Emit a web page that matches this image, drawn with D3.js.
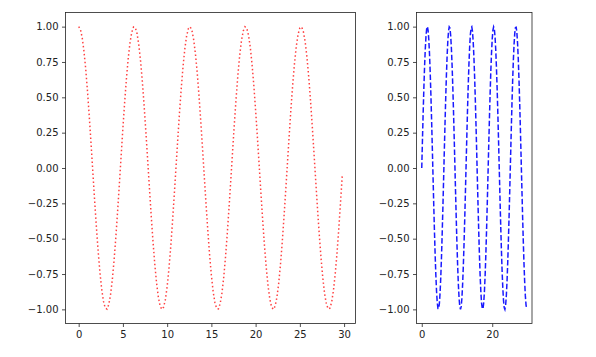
<!DOCTYPE html>
<html><head><meta charset="utf-8">
<script src="https://cdn.jsdelivr.net/npm/d3@7"></script>
<style>body{margin:0;background:#fff;}svg{display:block;}</style>
</head><body>
<script>
const xValues = [0,0.2,0.4,0.6,0.8,1,1.2,1.4,1.6,1.8,2,2.2,2.4,2.6,2.8,3,3.2,3.4,3.6,3.8,4,4.2,4.4,4.6,4.8,5,5.2,5.4,5.6,5.8,6,6.2,6.4,6.6,6.8,7,7.2,7.4,7.6,7.8,8,8.2,8.4,8.6,8.8,9,9.2,9.4,9.6,9.8,10,10.2,10.4,10.6,10.8,11,11.2,11.4,11.6,11.8,12,12.2,12.4,12.6,12.8,13,13.2,13.4,13.6,13.8,14,14.2,14.4,14.6,14.8,15,15.2,15.4,15.6,15.8,16,16.2,16.4,16.6,16.8,17,17.2,17.4,17.6,17.8,18,18.2,18.4,18.6,18.8,19,19.2,19.4,19.6,19.8,20,20.2,20.4,20.6,20.8,21,21.2,21.4,21.6,21.8,22,22.2,22.4,22.6,22.8,23,23.2,23.4,23.6,23.8,24,24.2,24.4,24.6,24.8,25,25.2,25.4,25.6,25.8,26,26.2,26.4,26.6,26.8,27,27.2,27.4,27.6,27.8,28,28.2,28.4,28.6,28.8,29,29.2,29.4,29.6,29.8];

const redValues = [1,0.98,0.921,0.825,0.697,0.54,0.362,0.17,-0.029,-0.227,-0.416,-0.589,-0.737,-0.857,-0.942,-0.99,-0.998,-0.967,-0.897,-0.791,-0.654,-0.49,-0.307,-0.112,0.087,0.284,0.468,0.635,0.776,0.886,0.96,0.997,
0.993,0.95,0.869,0.754,0.609,0.438,0.251,0.054,-0.145,-0.339,-0.519,-0.679,-0.811,-0.911,-0.975,-1,-0.984,-0.931,-0.839,-0.714,-0.561,-0.385,-0.194,0.005,0.203,0.394,0.568,0.721,0.844,0.934,0.986,
0.999,0.973,0.907,0.806,0.673,0.511,0.33,0.137,-0.063,-0.26,-0.446,-0.616,-0.759,-0.874,-0.953,-0.994,-0.996,-0.958,-0.882,-0.77,-0.628,-0.46,-0.275,-0.079,0.12,0.316,0.497,0.661,0.797,0.901,0.969,0.999,
0.989,0.939,0.852,0.731,0.582,0.408,0.218,0.02,-0.179,-0.37,-0.548,-0.703,-0.83,-0.925,-0.982,-1,-0.978,-0.918,-0.821,-0.69,-0.533,-0.354,-0.161,0.038,0.235,0.425,0.595,0.744,0.862,0.946,0.991,
0.998,0.964,0.893,0.785,0.647,0.482,0.299,0.103,-0.096,-0.292,-0.476,-0.642,-0.781,-0.89,-0.962,-0.997,-0.992,-0.948,-0.865,-0.748,-0.602,-0.43,-0.242,-0.045];

const blueValues = [0,0.199,0.389,0.565,0.717,0.841,0.932,0.985,1,0.974,0.909,0.808,0.675,0.516,0.335,0.141,-0.058,-0.256,-0.443,-0.612,-0.757,-0.872,-0.952,-0.994,-0.996,-0.959,-0.883,-0.773,-0.631,-0.465,-0.279,-0.083,
0.117,0.312,0.494,0.657,0.793,0.898,0.968,0.998,0.99,0.941,0.854,0.734,0.585,0.413,0.223,0.025,-0.174,-0.367,-0.545,-0.7,-0.828,-0.923,-0.981,-1,-0.979,-0.919,-0.822,-0.694,-0.536,-0.359,-0.165,
0.034,0.232,0.42,0.592,0.74,0.859,0.944,0.99,0.998,0.966,0.894,0.788,0.65,0.487,0.303,0.108,-0.092,-0.288,-0.473,-0.638,-0.779,-0.888,-0.962,-0.997,-0.993,-0.949,-0.867,-0.751,-0.605,-0.435,-0.247,-0.049,
0.15,0.344,0.523,0.682,0.813,0.912,0.976,0.999,0.984,0.929,0.836,0.711,0.557,0.382,0.19,-0.009,-0.207,-0.398,-0.572,-0.724,-0.846,-0.936,-0.987,-1,-0.972,-0.906,-0.803,-0.669,-0.508,-0.327,-0.132,
0.067,0.264,0.45,0.619,0.762,0.875,0.954,0.994,0.996,0.957,0.879,0.767,0.624,0.457,0.271,0.074,-0.125,-0.32,-0.502,-0.664,-0.799,-0.903,-0.97,-0.999];

const yTicks = [-1, -0.75, -0.5, -0.25, 0, 0.25, 0.5, 0.75, 1];
const leftXTicks = [0, 5, 10, 15, 20, 25, 30];
const rightXTicks = [0, 20];

const W = 596, H = 357;
const svg = d3.select("body").append("svg").attr("width", W).attr("height", H);

const xPad = (d3.max(xValues) - d3.min(xValues)) * 0.05;
const xDomain = [d3.min(xValues) - xPad, d3.max(xValues) + xPad];
const yDomain = [-1.1, 1.1];
const fmtY = v => d3.format(".2f")(v).replace("-", "\u2212");

function panel(x0, x1, yTop, yBot, ys, xTicks, color, dash, opacity) {
  const x = d3.scaleLinear().domain(xDomain).range([x0, x1]);
  const y = d3.scaleLinear().domain(yDomain).range([yBot, yTop]);
  const g = svg.append("g");
  const clipId = "clip" + Math.round(x0);
  g.append("clipPath").attr("id", clipId).append("rect")
    .attr("x", x0).attr("y", yTop).attr("width", x1 - x0).attr("height", yBot - yTop);
  const line = d3.line().x((d, i) => x(xValues[i])).y(d => y(d));
  g.append("path").datum(ys).attr("d", line)
    .attr("fill", "none").attr("stroke", color).attr("stroke-width", 1.5)
    .attr("stroke-opacity", opacity)
    .attr("stroke-dasharray", dash).attr("clip-path", `url(#${clipId})`);

  const xAxis = d3.axisBottom(x).tickValues(xTicks).tickSize(3.5).tickPadding(3.5).tickFormat(d3.format("d"));
  const yAxis = d3.axisLeft(y).tickValues(yTicks).tickSize(3.5).tickPadding(3.5).tickFormat(fmtY);
  const gx = g.append("g").attr("transform", `translate(0,${yBot})`).call(xAxis);
  const gy = g.append("g").attr("transform", `translate(${x0},0)`).call(yAxis);
  [gx, gy].forEach(a => {
    a.select(".domain").remove();
    a.selectAll("line").attr("stroke", "#222").attr("stroke-width", 0.8);
    a.selectAll("text").attr("fill", "#222").style("font-family", "DejaVu Sans").style("font-size", "10px");
  });
  g.append("rect").attr("x", x0).attr("y", yTop).attr("width", x1 - x0).attr("height", yBot - yTop)
    .attr("fill", "none").attr("stroke", "#222").attr("stroke-width", 0.8);
}

panel(65.5, 355.5, 12.5, 323.5, redValues, leftXTicks, "#ff0000", "1.5,2.5", 0.75);
panel(416.5, 532, 12.5, 323.5, blueValues, rightXTicks, "#0000ff", "5.5,2.4", 0.9);
</script>
</body></html>
